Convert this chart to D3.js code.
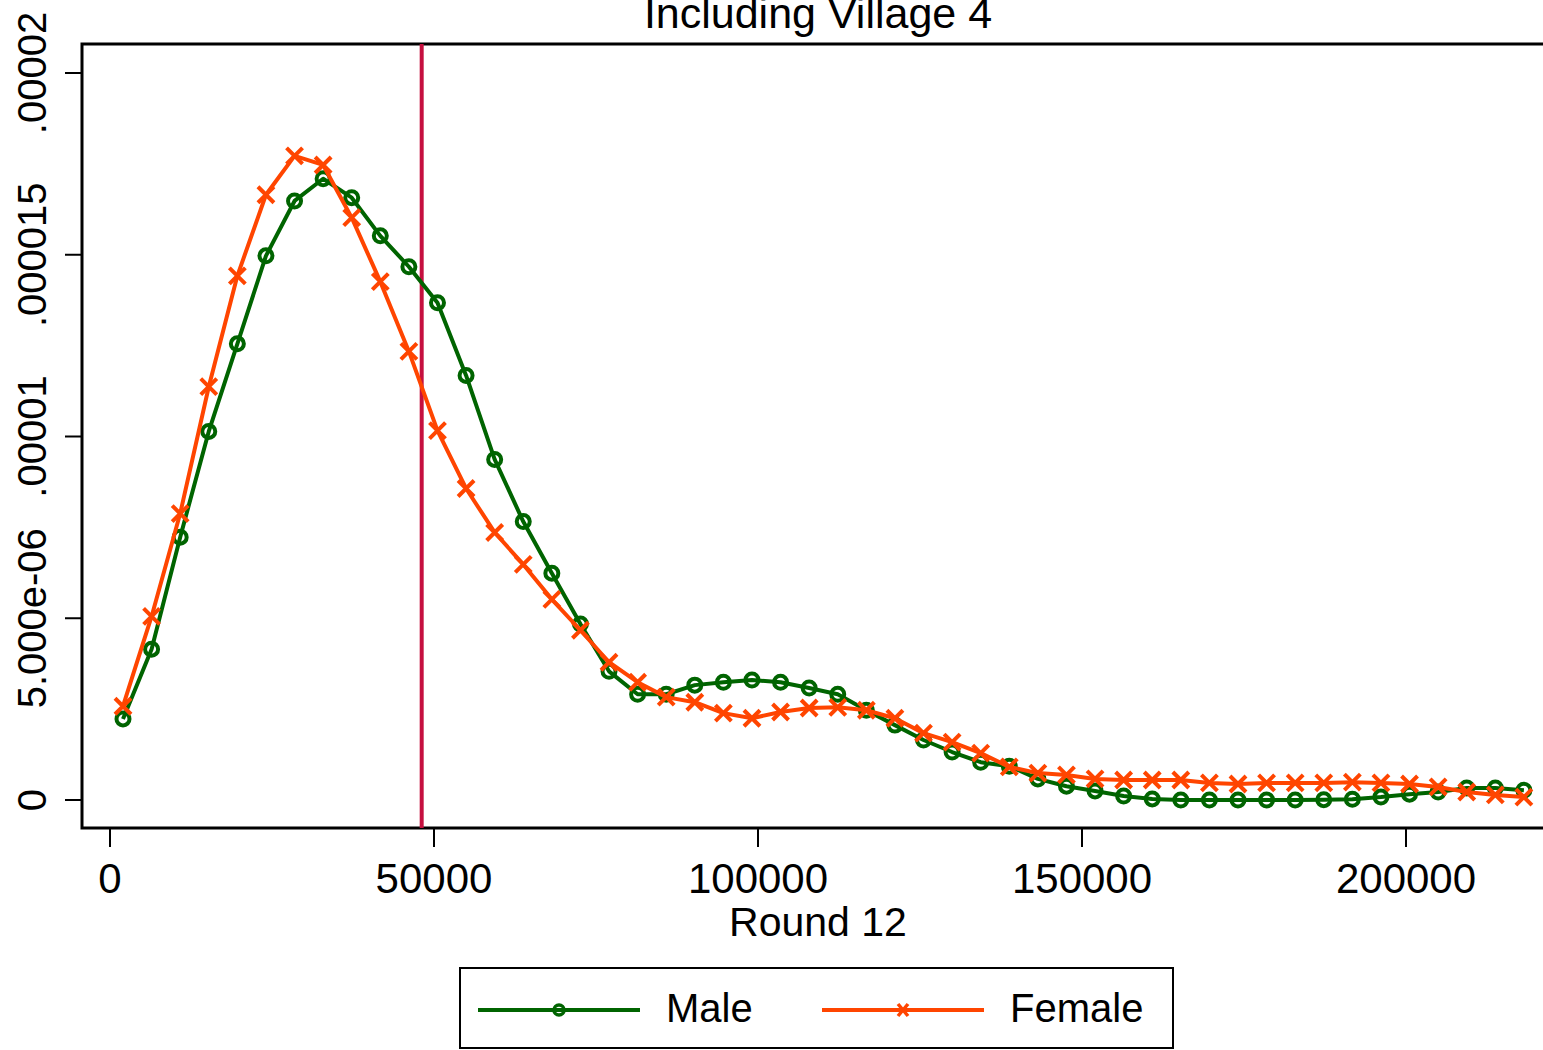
<!DOCTYPE html>
<html>
<head>
<meta charset="utf-8">
<script src="https://cdn.jsdelivr.net/npm/d3@7"></script>
<style>
  body { margin: 0; background: #fff; }
  text { font-family: "Liberation Sans", Arial, sans-serif; fill: #000; }
</style>
</head>
<body>
<script>
// evaluation grid of the kernel density (Round 12 income)
const gridX = [2006, 6418, 10830, 15242, 19654, 24066, 28478, 32890, 37302, 41714,
  46126, 50538, 54950, 59362, 63774, 68186, 72598, 77010, 81422, 85834,
  90246, 94658, 99070, 103482, 107894, 112306, 116718, 121130, 125542, 129954,
  134366, 138778, 143190, 147602, 152014, 156426, 160838, 165250, 169662, 174074,
  178486, 182898, 187310, 191722, 196134, 200546, 204958, 209370, 213782, 218194]

// densities, in units of 1e-6
const maleDensity = [2.23, 4.15, 7.23, 10.14, 12.55, 14.97, 16.48, 17.09, 16.57, 15.52,
  14.67, 13.68, 11.68, 9.37, 7.66, 6.24, 4.84, 3.54, 2.91, 2.91,
  3.16, 3.24, 3.30, 3.24, 3.08, 2.91, 2.47, 2.06, 1.65, 1.32,
  1.04, 0.93, 0.58, 0.38, 0.25, 0.11, 0.03, 0.0, 0.0, 0.0,
  0.0, 0.0, 0.01, 0.02, 0.08, 0.16, 0.22, 0.33, 0.33, 0.27]

const femaleDensity = [2.58, 5.05, 7.88, 11.37, 14.42, 16.65, 17.72, 17.47, 16.02, 14.26,
  12.34, 10.16, 8.57, 7.36, 6.48, 5.52, 4.67, 3.79, 3.24, 2.83,
  2.69, 2.39, 2.25, 2.42, 2.53, 2.55, 2.47, 2.25, 1.84, 1.59,
  1.29, 0.91, 0.74, 0.69, 0.58, 0.55, 0.55, 0.55, 0.47, 0.44,
  0.47, 0.47, 0.47, 0.49, 0.47, 0.44, 0.36, 0.22, 0.14, 0.08]

const xTicks = [0, 50000, 100000, 150000, 200000]
const yTicks = [0, 5e-6, 1e-5, 1.5e-5, 2e-5]
const yTickLabels = ['0', '5.000e-06', '.00001', '.000015', '.00002']
const cutoff = 48100

const m = { width: 1543, height: 1050 }
const box = { left: 82, top: 44, bottom: 828, right: 1545 }

const svg = d3.select('body').append('svg')
    .attr('width', m.width)
    .attr('height', m.height)

const x = d3.scaleLinear().domain([0, 200000]).range([110, 1406])
const y = d3.scaleLinear().domain([0, 2e-5]).range([800, 73])

const male = gridX.map((v, i) => [v, maleDensity[i] * 1e-6])
const female = gridX.map((v, i) => [v, femaleDensity[i] * 1e-6])

// title (cut off at the top like the original)
svg.append('text')
    .attr('x', 818).attr('y', 28)
    .attr('text-anchor', 'middle')
    .attr('font-size', 43)
    .text('Including Village 4')

// plot region frame
svg.append('path')
    .attr('d', `M${box.right},${box.top}H${box.left}V${box.bottom}H${box.right}`)
    .attr('fill', 'none')
    .attr('stroke', '#000')
    .attr('stroke-width', 3)

// x axis ticks
const xt = svg.append('g')
xt.selectAll('line').data(xTicks).enter().append('line')
    .attr('x1', d => x(d)).attr('x2', d => x(d))
    .attr('y1', box.bottom).attr('y2', box.bottom + 19)
    .attr('stroke', '#000').attr('stroke-width', 2)
xt.selectAll('text').data(xTicks).enter().append('text')
    .attr('x', d => x(d)).attr('y', 893)
    .attr('text-anchor', 'middle')
    .attr('font-size', 42)
    .text(d => d)

svg.append('text')
    .attr('x', 818).attr('y', 936)
    .attr('text-anchor', 'middle')
    .attr('font-size', 41)
    .text('Round 12')

// y axis ticks
const yt = svg.append('g')
yt.selectAll('line').data(yTicks).enter().append('line')
    .attr('x1', box.left - 17).attr('x2', box.left)
    .attr('y1', d => y(d)).attr('y2', d => y(d))
    .attr('stroke', '#000').attr('stroke-width', 2)
yt.selectAll('text').data(yTicks).enter().append('text')
    .attr('transform', d => `translate(46,${y(d)}) rotate(-90)`)
    .attr('text-anchor', 'middle')
    .attr('font-size', 40)
    .text((d, i) => yTickLabels[i])

// vertical reference line
svg.append('line')
    .attr('x1', x(cutoff)).attr('x2', x(cutoff))
    .attr('y1', box.top).attr('y2', box.bottom)
    .attr('stroke', '#c5103f').attr('stroke-width', 4)

const line = d3.line().x(d => x(d[0])).y(d => y(d[1]))

function drawSeries(data, color, marker) {
  const g = svg.append('g')
  g.append('path')
      .datum(data)
      .attr('d', line)
      .attr('fill', 'none')
      .attr('stroke', color)
      .attr('stroke-width', 4)
      .attr('stroke-linejoin', 'round')
  if (marker === 'circle') {
    g.selectAll('circle').data(data).enter().append('circle')
        .attr('cx', d => x(d[0])).attr('cy', d => y(d[1]))
        .attr('r', 6.5)
        .attr('fill', 'none')
        .attr('stroke', color).attr('stroke-width', 4)
  } else {
    g.selectAll('path.mk').data(data).enter().append('path')
        .attr('class', 'mk')
        .attr('d', d => {
          const cx = x(d[0]), cy = y(d[1]), s = 8
          return `M${cx - s},${cy - s}L${cx + s},${cy + s}M${cx - s},${cy + s}L${cx + s},${cy - s}`
        })
        .attr('stroke', color).attr('stroke-width', 4)
  }
}

drawSeries(male, '#006400', 'circle')
drawSeries(female, '#ff4500', 'x')

// legend
const lg = svg.append('g')
lg.append('rect')
    .attr('x', 460).attr('y', 968)
    .attr('width', 713).attr('height', 80)
    .attr('fill', '#fff').attr('stroke', '#000').attr('stroke-width', 2)

const items = [
  { label: 'Male', color: '#006400', marker: 'circle', x0: 478 },
  { label: 'Female', color: '#ff4500', marker: 'x', x0: 822 }
]
items.forEach(it => {
  lg.append('line')
      .attr('x1', it.x0).attr('x2', it.x0 + 162)
      .attr('y1', 1010).attr('y2', 1010)
      .attr('stroke', it.color).attr('stroke-width', 4)
  const cx = it.x0 + 81
  if (it.marker === 'circle') {
    lg.append('circle').attr('cx', cx).attr('cy', 1010).attr('r', 5)
        .attr('fill', 'none').attr('stroke', it.color).attr('stroke-width', 3.5)
  } else {
    lg.append('path')
        .attr('d', `M${cx - 5},1004L${cx + 5},1016M${cx - 5},1016L${cx + 5},1004`)
        .attr('stroke', it.color).attr('stroke-width', 3.5)
  }
  lg.append('text')
      .attr('x', it.x0 + 188).attr('y', 1022)
      .attr('font-size', 40)
      .text(it.label)
})
</script>
</body>
</html>
